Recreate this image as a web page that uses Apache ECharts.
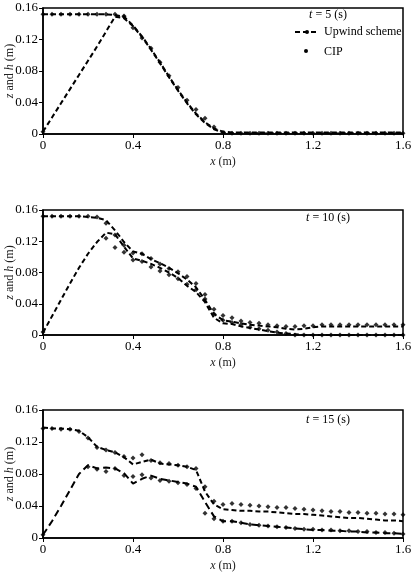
<!DOCTYPE html>
<html>
<head>
<meta charset="utf-8">
<script src="https://cdn.jsdelivr.net/npm/echarts@6/dist/echarts.min.js"></script>
<style>
html, body { margin: 0; padding: 0; background: #fff; }
#main { width: 414px; height: 580px; }
</style>
</head>
<body>
<div id="main"></div>
<script>
// x positions of the computed nodes (m)
var xs = [0, 0.04, 0.08, 0.12, 0.16, 0.20, 0.24, 0.28, 0.32, 0.36,
          0.40, 0.44, 0.48, 0.52, 0.56, 0.60, 0.64, 0.68, 0.72, 0.76,
          0.80, 0.84, 0.88, 0.92, 0.96, 1.00, 1.04, 1.08, 1.12, 1.16,
          1.20, 1.24, 1.28, 1.32, 1.36, 1.40, 1.44, 1.48, 1.52, 1.56, 1.60];

var xTicks = [0, 0.4, 0.8, 1.2, 1.6];
var yTicks = [0, 0.04, 0.08, 0.12, 0.16];
var times = ['5', '10', '15'];

// t = 5 s
var up5h = [0.152, 0.152, 0.152, 0.152, 0.152, 0.152, 0.152, 0.152, 0.151, 0.149,
            0.138, 0.124, 0.108, 0.091, 0.073, 0.056, 0.040, 0.026, 0.015, 0.007,
            0.003, 0.002, 0.002, 0.002, 0.002, 0.002, 0.002, 0.002, 0.002, 0.002,
            0.002, 0.002, 0.002, 0.002, 0.002, 0.002, 0.002, 0.002, 0.002, 0.002, 0.002];
var up5z = [0.003, 0.021, 0.039, 0.057, 0.075, 0.093, 0.111, 0.130, 0.149, 0.147,
            0.137, 0.123, 0.107, 0.090, 0.072, 0.055, 0.039, 0.025, 0.014, 0.006,
            0.002, 0.001, 0.001, 0.001, 0.001, 0.001, 0.001, 0.001, 0.001, 0.001,
            0.001, 0.001, 0.001, 0.001, 0.001, 0.001, 0.001, 0.001, 0.001, 0.001, 0.001];
var cip5h = [0.152, 0.152, 0.152, 0.152, 0.152, 0.152, 0.152, 0.152, 0.152, 0.150,
             null, null, null, null, null, null, null, null, null, null,
             null, null, null, null, null, null, null, null, null, null,
             null, null, null, null, null, null, null, null, null, null, null];
var cip5z = [0.003, null, null, null, null, null, null, null, null, 0.149,
             0.135, 0.122, 0.109, 0.091, 0.074, 0.059, 0.043, 0.031, 0.020, 0.009,
             0.002, 0.001, 0.001, 0.001, 0.001, 0.001, 0.001, 0.001, 0.001, 0.001,
             0.001, 0.001, 0.001, 0.001, 0.001, 0.001, 0.001, 0.001, 0.001, 0.001, 0.001];

// t = 10 s
var up10h = [0.152, 0.152, 0.152, 0.152, 0.152, 0.151, 0.150, 0.147, 0.134, 0.119,
             0.107, 0.104, 0.097, 0.092, 0.086, 0.079, 0.071, 0.061, 0.045, 0.027,
             0.019, 0.017, 0.015, 0.013, 0.012, 0.011, 0.010, 0.008, 0.007, 0.008,
             0.010, 0.011, 0.011, 0.011, 0.011, 0.011, 0.011, 0.011, 0.011, 0.011, 0.011];
var up10z = [0.003, 0.024, 0.045, 0.066, 0.086, 0.104, 0.119, 0.131, 0.129, 0.113,
             0.098, 0.095, 0.091, 0.086, 0.080, 0.073, 0.063, 0.055, 0.042, 0.022,
             0.015, 0.014, 0.011, 0.009, 0.007, 0.005, 0.003, 0.002, 0.001, 0,
             0, 0, 0, 0, 0, 0, 0, 0, 0, 0, 0];
var cip10h = [0.152, 0.152, 0.152, 0.152, 0.152, 0.152, 0.151, 0.143, 0.128, 0.115,
              0.105, 0.104, 0.098, 0.091, 0.085, 0.081, 0.075, 0.066, 0.052, 0.033,
              0.025, 0.022, 0.018, 0.016, 0.015, 0.013, 0.012, 0.011, 0.011, 0.012,
              0.012, 0.013, 0.013, 0.013, 0.013, 0.013, 0.013, 0.013, 0.013, 0.013, 0.013];
var cip10z = [0.004, null, null, null, null, null, null, 0.124, 0.112, 0.106,
              0.096, 0.094, 0.087, 0.082, 0.077, 0.072, 0.065, 0.058, 0.046, 0.027,
              0.019, 0.016, 0.013, 0.010, 0.008, 0.006, 0.004, 0.002, 0, 0,
              0, 0, 0, 0, 0, 0, 0, 0, 0, 0, 0];

// t = 15 s
var up15h = [0.138, 0.137, 0.137, 0.136, 0.134, 0.126, 0.114, 0.110, 0.107, 0.101,
             0.092, 0.095, 0.098, 0.093, 0.092, 0.091, 0.089, 0.085, 0.058, 0.042,
             0.036, 0.035, 0.034, 0.034, 0.033, 0.033, 0.032, 0.031, 0.030, 0.030,
             0.029, 0.028, 0.027, 0.026, 0.025, 0.025, 0.024, 0.023, 0.022, 0.022, 0.021];
var up15z = [0.004, 0.021, 0.040, 0.060, 0.080, 0.091, 0.087, 0.088, 0.087, 0.081,
             0.068, 0.074, 0.078, 0.074, 0.072, 0.070, 0.068, 0.064, 0.045, 0.027,
             0.021, 0.021, 0.019, 0.017, 0.016, 0.015, 0.014, 0.013, 0.012, 0.011,
             0.010, 0.010, 0.009, 0.009, 0.008, 0.008, 0.007, 0.007, 0.006, 0.006, 0.005];
var cip15h = [0.137, 0.137, 0.136, 0.136, 0.133, 0.125, 0.113, 0.110, 0.107, 0.102,
              0.100, 0.104, 0.097, 0.094, 0.093, 0.091, 0.089, 0.087, 0.064, 0.046,
              0.042, 0.043, 0.042, 0.041, 0.040, 0.039, 0.038, 0.038, 0.037, 0.036,
              0.035, 0.034, 0.033, 0.033, 0.032, 0.032, 0.031, 0.031, 0.030, 0.030, 0.029];
var cip15z = [0.004, null, null, null, null, 0.089, 0.086, 0.083, 0.087, 0.078,
              0.077, 0.079, 0.075, 0.072, 0.071, 0.069, 0.067, 0.062, 0.031, 0.024,
              0.021, 0.021, 0.019, 0.017, 0.016, 0.015, 0.014, 0.013, 0.012, 0.011,
              0.011, 0.010, 0.010, 0.009, 0.009, 0.008, 0.008, 0.007, 0.007, 0.006, 0.005];

var panels = [
    { top: 8,   height: 126, up: [up5h, up5z],   cip: [cip5h, cip5z],   tTop: 9 },
    { top: 210, height: 125, up: [up10h, up10z], cip: [cip10h, cip10z], tTop: 212 },
    { top: 410, height: 128, up: [up15h, up15z], cip: [cip15h, cip15z], tTop: 414 }
];

var serif = 'Liberation Serif';

var pairs = function (ys) {
    var out = [];
    for (var i = 0; i < xs.length; i++) {
        if (ys[i] !== null) out.push([xs[i], ys[i]]);
    }
    return out;
};

var grids = [], xAxes = [], yAxes = [], series = [], titles = [];

panels.forEach(function (p, k) {
    grids.push({
        left: 43, width: 360, top: p.top, height: p.height,
        containLabel: false, outerBoundsMode: 'none',
        show: true, borderColor: '#000', borderWidth: 1.5, backgroundColor: 'transparent'
    });
    xAxes.push({
        gridIndex: k, type: 'value', min: xTicks[0], max: xTicks[xTicks.length - 1],
        interval: xTicks[1] - xTicks[0],
        name: '{i|x} (m)', nameLocation: 'middle', nameGap: 22, nameMoveOverlap: false,
        nameTextStyle: { fontFamily: serif, fontSize: 12, color: '#222',
            rich: { i: { fontFamily: serif, fontSize: 12, fontStyle: 'italic', color: '#222' } } },
        axisLine: { show: true, lineStyle: { color: '#000', width: 1.5 } },
        axisTick: { show: true, inside: false, length: 4, lineStyle: { color: '#000' } },
        axisLabel: { fontFamily: serif, fontSize: 13, color: '#000', margin: 5 },
        splitLine: { show: false }
    });
    yAxes.push({
        gridIndex: k, type: 'value', min: yTicks[0], max: yTicks[yTicks.length - 1],
        interval: yTicks[1] - yTicks[0],
        name: '{i|z} and {i|h} (m)', nameLocation: 'middle', nameGap: 27, nameMoveOverlap: false,
        nameTextStyle: { fontFamily: serif, fontSize: 12, color: '#222',
            rich: { i: { fontFamily: serif, fontSize: 12, fontStyle: 'italic', color: '#222' } } },
        axisLine: { show: true, lineStyle: { color: '#000', width: 1.5 } },
        axisTick: { show: true, inside: false, length: 4, lineStyle: { color: '#000' } },
        axisLabel: { fontFamily: serif, fontSize: 13, color: '#000', margin: 5 },
        splitLine: { show: false }
    });
    titles.push({
        text: '{i|t} = ' + times[k] + ' (s)',
        left: 328, top: p.tTop, textAlign: 'center', padding: 0,
        textStyle: { fontFamily: serif, fontSize: 12, fontWeight: 'normal', color: '#000',
            rich: { i: { fontFamily: serif, fontSize: 12, fontStyle: 'italic', color: '#000' } } }
    });
    p.up.forEach(function (ys, j) {
        series.push({
            name: 'Upwind scheme', type: 'line', xAxisIndex: k, yAxisIndex: k,
            data: pairs(ys), showSymbol: false, symbol: 'none', color: '#000',
            lineStyle: { color: '#000', width: 2, type: (k === 2 && j === 1) ? [7, 4] : [5, 3] },
            silent: true
        });
    });
    p.cip.forEach(function (ys) {
        series.push({
            name: 'CIP', type: 'scatter', xAxisIndex: k, yAxisIndex: k,
            data: pairs(ys), symbol: 'diamond', symbolSize: 5, symbolKeepAspect: true,
            itemStyle: { color: '#000' }, silent: true
        });
    });
});

var chart = echarts.init(document.getElementById('main'));
chart.setOption({
    animation: false,
    backgroundColor: '#fff',
    title: titles,
    legend: {
        data: [
            { name: 'Upwind scheme' },
            { name: 'CIP', icon: 'path://M0,0L5,0L5,5L0,5Z', itemStyle: { color: 'transparent' } }
        ],
        orient: 'vertical', left: 294, top: 26, itemGap: 8,
        itemWidth: 24, itemHeight: 5, padding: 0, symbolKeepAspect: true,
        textStyle: { fontFamily: serif, fontSize: 12, color: '#000' }
    },
    graphic: [{
        // the single CIP marker of the legend, placed on the legend's icon centre
        type: 'circle', left: 304, top: 49,
        shape: { r: 2 }, style: { fill: '#000' }, silent: true
    }],
    grid: grids,
    xAxis: xAxes,
    yAxis: yAxes,
    series: series
});
</script>
</body>
</html>
